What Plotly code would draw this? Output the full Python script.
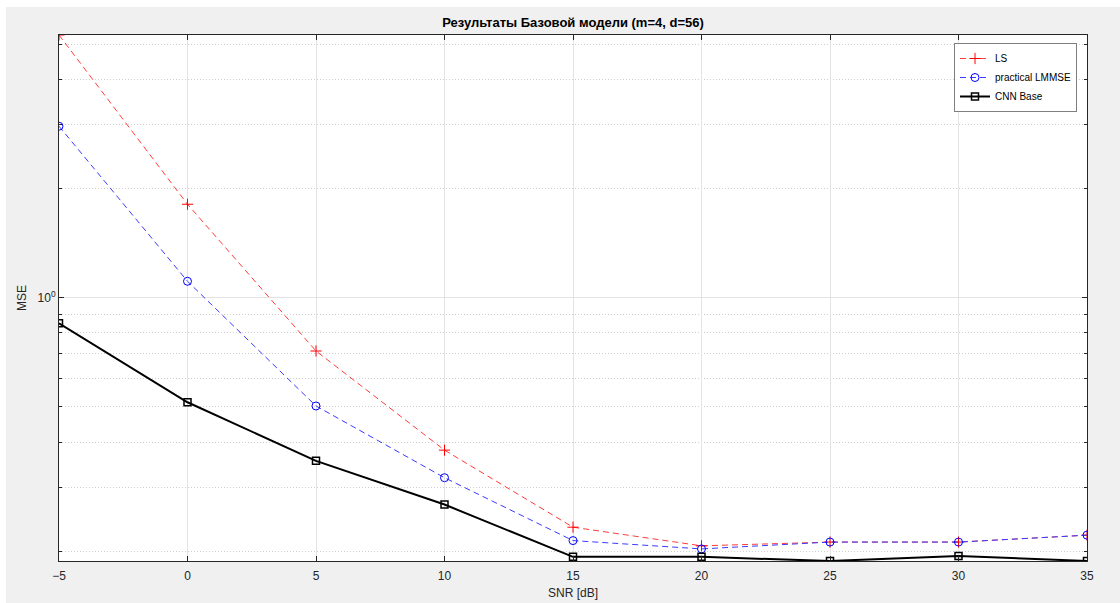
import math
import plotly.graph_objects as go

snr = [-5, 0, 5, 10, 15, 20, 25, 30, 35]
mse_ls = [5.30, 1.81, 0.713, 0.380, 0.233, 0.207, 0.212, 0.212, 0.2215]
mse_lmmse = [2.97, 1.11, 0.503, 0.319, 0.214, 0.203, 0.212, 0.212, 0.2215]
mse_cnn = [0.850, 0.515, 0.355, 0.269, 0.193, 0.193, 0.188, 0.194, 0.188]

x_ticks = [-5, 0, 5, 10, 15, 20, 25, 30, 35]
y_major = [1]
y_major_text = ["10<sup>0</sup>"]
y_minor = [0.2, 0.3, 0.4, 0.5, 0.6, 0.7, 0.8, 0.9, 2, 3, 4, 5]

W, H = 1120, 603
L, R, T, B = 59, 1087, 35, 561

def px(xp):
    return (xp - L) / (R - L)

def py(yp):
    return (B - yp) / (B - T)

fig = go.Figure()
fig.add_trace(go.Scatter(
    x=snr, y=mse_ls, name="LS", mode="lines+markers",
    line=dict(color="#ff3b3b", width=1, dash="6px,4px"),
    marker=dict(symbol="cross-thin-open", size=8, color="#ff0000",
                line=dict(width=1, color="#ff0000")),
))
fig.add_trace(go.Scatter(
    x=snr, y=mse_lmmse, name="practical LMMSE", mode="lines+markers",
    line=dict(color="#3b3bff", width=1, dash="6px,4px"),
    marker=dict(symbol="circle-open", size=8, color="#0000ff",
                line=dict(width=1, color="#0000ff")),
))
fig.add_trace(go.Scatter(
    x=snr, y=mse_cnn, name="CNN Base", mode="lines+markers",
    line=dict(color="#000000", width=2),
    marker=dict(symbol="square-open", size=7, color="#000000",
                line=dict(width=1.5, color="#000000")),
))

ymin = min(mse_cnn)
ymax = max(mse_ls)

axis_color = "#262626"
fig.update_layout(
    width=W, height=H,
    margin=dict(l=L, r=W - R, t=T, b=H - B, pad=0),
    paper_bgcolor="#f0f0f0",
    plot_bgcolor="#ffffff",
    font=dict(family="Liberation Sans, Arial, sans-serif", size=11, color=axis_color),
    title=dict(text="<b>Результаты Базовой модели (m=4, d=56)</b>",
               x=0.5, xanchor="center", xref="paper",
               y=1 - 22 / H, yanchor="middle", yref="container",
               font=dict(size=13, color="#000000")),
    showlegend=True,
    legend=dict(x=px(1077), y=py(43), xanchor="right", yanchor="top",
                bgcolor="#ffffff", bordercolor="#7f7f7f", borderwidth=1,
                font=dict(size=10, color="#000000"), tracegroupgap=0,
                itemwidth=30),
    xaxis=dict(
        range=[-5, 35], tickmode="array", tickvals=x_ticks,
        ticks="inside", ticklen=5, tickcolor=axis_color,
        showline=True, linecolor=axis_color, linewidth=1, mirror="ticks",
        showgrid=True, gridcolor="#e3e3e3", gridwidth=1,
        zeroline=False, ticklabelstandoff=4, automargin=False,
        title=dict(text="SNR [dB]", standoff=6, font=dict(size=12, color=axis_color)),
        tickfont=dict(size=12, color=axis_color),
    ),
    yaxis=dict(
        type="log", range=[math.log10(ymin), math.log10(ymax)],
        tickmode="array", tickvals=y_major, ticktext=y_major_text,
        ticks="inside", ticklen=5, tickcolor=axis_color,
        showline=True, linecolor=axis_color, linewidth=1, mirror="ticks",
        showgrid=True, gridcolor="#e3e3e3", gridwidth=1,
        zeroline=False, automargin=False,
        minor=dict(tickmode="array", tickvals=y_minor, ticks="inside",
                   ticklen=3, tickcolor=axis_color, showgrid=True,
                   gridcolor="#cfcfcf", griddash="1px,2px", gridwidth=1),
        title=dict(text="MSE", standoff=8, font=dict(size=12, color=axis_color)),
        tickfont=dict(size=12, color=axis_color),
    ),
)

# white border strips at top and left of the screenshot
fig.add_shape(type="rect", xref="paper", yref="paper",
              x0=px(0), x1=px(6), y0=py(H), y1=py(0),
              fillcolor="#ffffff", line=dict(width=0), layer="below")
fig.add_shape(type="rect", xref="paper", yref="paper",
              x0=px(0), x1=px(W), y0=py(7), y1=py(0),
              fillcolor="#ffffff", line=dict(width=0), layer="below")

fig.write_html("out.html")
